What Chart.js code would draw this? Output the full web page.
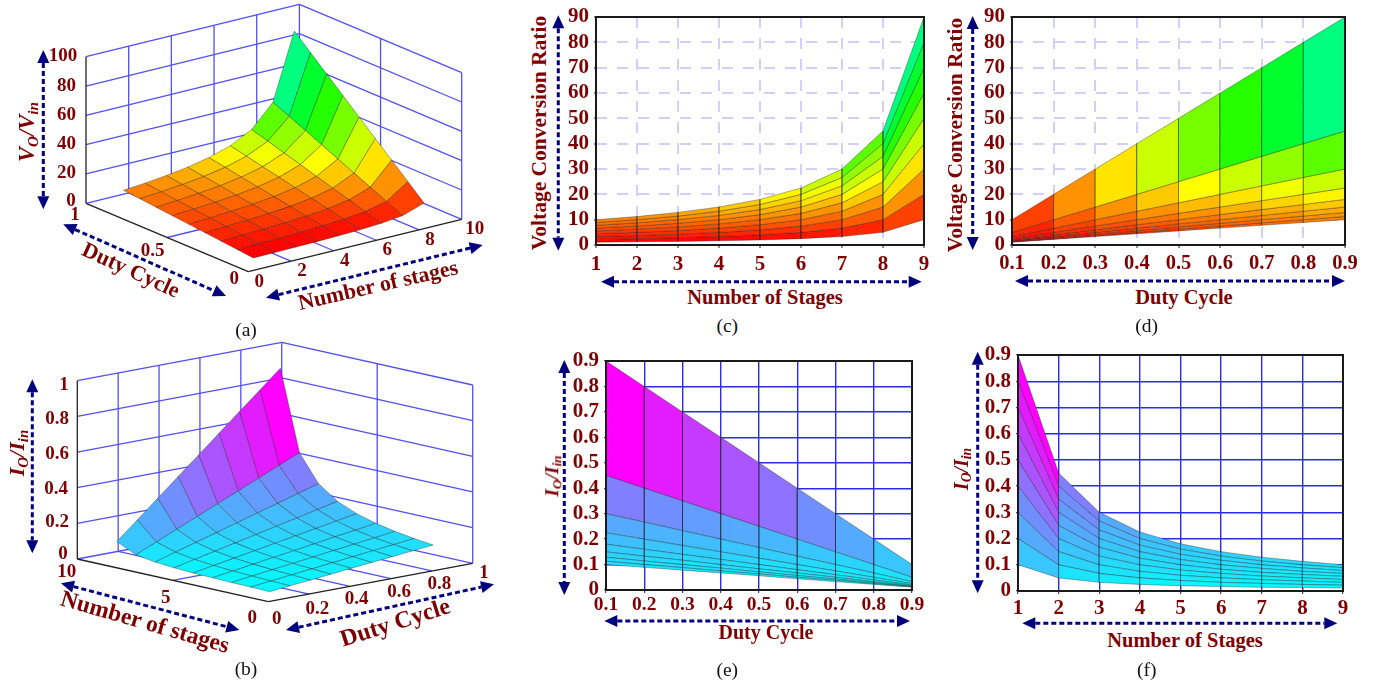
<!DOCTYPE html>
<html><head><meta charset="utf-8">
<script src="https://cdn.jsdelivr.net/npm/chart.js@4/dist/chart.umd.js"></script>
<style>
html,body{margin:0;padding:0;background:#fff;overflow:hidden}
#page{position:relative;width:1378px;height:683px;background:#fff;overflow:hidden}
canvas{position:absolute;display:block}
svg{position:absolute;left:0;top:0;pointer-events:none}
.t{position:absolute;white-space:nowrap;line-height:1;font-family:"Liberation Serif",serif;font-weight:bold;color:#7f0000}
.t sub{font-size:.68em;vertical-align:baseline;position:relative;top:.25em}
.c{font-weight:normal;color:#111}
</style></head><body><div id="page"></div>
<script>
// ---------- data ----------
const stages = [1,2,3,4,5,6,7,8,9];
const duties = [0.1,0.2,0.3,0.4,0.5,0.6,0.7,0.8,0.9];
// rows: number of stages 1..9, columns: duty cycle 0.1..0.9
const voltageRatio = [
 [1.11,2.22,3.33,4.44,5.56,6.67,7.78,8.89,10],
 [1.25,2.5,3.75,5,6.25,7.5,8.75,10,11.25],
 [1.43,2.86,4.29,5.71,7.14,8.57,10,11.43,12.86],
 [1.67,3.33,5,6.67,8.33,10,11.67,13.33,15],
 [2,4,6,8,10,12,14,16,18],
 [2.5,5,7.5,10,12.5,15,17.5,20,22.5],
 [3.33,6.67,10,13.33,16.67,20,23.33,26.67,30],
 [5,10,15,20,25,30,35,40,45],
 [10,20,30,40,50,60,70,80,90]
];
const currentRatio = [
 [.9,.8,.7,.6,.5,.4,.3,.2,.1],
 [.45,.4,.35,.3,.25,.2,.15,.1,.05],
 [.3,.267,.233,.2,.167,.133,.1,.067,.033],
 [.225,.2,.175,.15,.125,.1,.075,.05,.025],
 [.18,.16,.14,.12,.1,.08,.06,.04,.02],
 [.15,.133,.117,.1,.083,.067,.05,.033,.017],
 [.129,.114,.1,.086,.071,.057,.043,.029,.014],
 [.113,.1,.088,.075,.063,.05,.038,.025,.013],
 [.1,.089,.078,.067,.056,.044,.033,.022,.011]
];
const voltTicks = [0,10,20,30,40,50,60,70,80,90];
const voltLabels = ['0','10','20','30','40','50','60','70','80','90'];
const currTicks = [0,.1,.2,.3,.4,.5,.6,.7,.8,.9];
const currLabels = ['0','0.1','0.2','0.3','0.4','0.5','0.6','0.7','0.8','0.9'];
const stageLabels = ['1','2','3','4','5','6','7','8','9'];
const dutyLabels = ['0.1','0.2','0.3','0.4','0.5','0.6','0.7','0.8','0.9'];

// ---------- helpers ----------
const RED='#7f0000', NAVY='#00007f', FONT='"Liberation Serif", serif';
const page=document.getElementById('page');
Chart.defaults.animation=false;

function hsvGreen(v){ // red to spring green by value
  const h=Math.max(0,Math.min(152,3.84*v-4));
  return `hsl(${h},100%,50%)`;
}
function cool(v){ // cyan to magenta by value
  const r=Math.round(255*Math.min(1,v/.9));
  return `rgb(${r},${255-r},255)`;
}
function cellColor(kind,a,b,c,d){
  return kind==='V'?hsvGreen(Math.min(a,b,c,d)):cool(Math.max(a,b,c,d));
}
function cellsFrom(table,kind,toPoint,rows,cols){
  const out=[];
  for(const r of rows)for(const c of cols){
    const p=[[r,c],[r+1,c],[r+1,c+1],[r,c+1],[r,c]].map(([i,j])=>toPoint(i,j,table[i][j]));
    out.push({
      type:'scatter',showLine:true,data:p,fill:'shape',tension:0,
      backgroundColor:cellColor(kind,table[r][c],table[r+1][c],table[r+1][c+1],table[r][c+1]),
      borderColor:'rgba(30,30,30,.5)',borderWidth:.7,pointRadius:0
    });
  }
  return out;
}
function addText(html,cx,cy,size,rot,cls){
  const d=document.createElement('div');
  d.className='t'+(cls?' '+cls:'');
  d.innerHTML=html;
  d.style.left=cx+'px';d.style.top=cy+'px';d.style.fontSize=size+'px';
  d.style.transform=`translate(-50%,-50%) rotate(${rot||0}deg)`;
  page.appendChild(d);
}
function addArrow(svg,x1,y1,x2,y2){
  const L=Math.hypot(x2-x1,y2-y1),ux=(x2-x1)/L,uy=(y2-y1)/L,h=13,w=6;
  const ln=document.createElementNS('http://www.w3.org/2000/svg','line');
  ln.setAttribute('x1',x1+ux*h);ln.setAttribute('y1',y1+uy*h);
  ln.setAttribute('x2',x2-ux*h);ln.setAttribute('y2',y2-uy*h);
  ln.setAttribute('stroke',NAVY);ln.setAttribute('stroke-width','3');
  ln.setAttribute('stroke-dasharray','5 3');
  svg.appendChild(ln);
  for(const [x,y,s] of [[x1,y1,1],[x2,y2,-1]]){
    const p=document.createElementNS('http://www.w3.org/2000/svg','polygon');
    const bx=x+s*ux*h,by=y+s*uy*h;
    p.setAttribute('points',`${x},${y} ${bx-uy*w},${by+ux*w} ${bx+uy*w},${by-ux*w}`);
    p.setAttribute('fill',NAVY);
    svg.appendChild(p);
  }
}
function mkCanvas(l,t,w,h){
  const c=document.createElement('canvas');
  c.width=w;c.height=h;c.style.left=l+'px';c.style.top=t+'px';c.style.width=w+'px';c.style.height=h+'px';
  page.appendChild(c);return c;
}
function withOrder(ds){ds.forEach((d,i)=>d.order=-i);return ds;}

// ---------- 2-D panels ----------
function panel2D(o){
  const L=44,T=22,R=26,B=34;
  const c=mkCanvas(o.left-L,o.top-T,o.right-o.left+L+R,o.bottom-o.top+T+B);
  const xMin=o.xTicks[0],xMax=o.xTicks[o.xTicks.length-1];
  const yMin=o.yTicks[0],yMax=o.yTicks[o.yTicks.length-1];
  const frame={type:'scatter',showLine:true,fill:false,tension:0,pointRadius:0,clip:false,
    data:[{x:xMin,y:yMin},{x:xMax,y:yMin},{x:xMax,y:yMax},{x:xMin,y:yMax},{x:xMin,y:yMin}],
    borderColor:'#1a1a1a',borderWidth:2};
  new Chart(c,{type:'scatter',
    data:{datasets:withOrder([...o.cells,frame])},
    options:{responsive:false,devicePixelRatio:1,animation:false,
      layout:{padding:{left:0,top:T,right:R,bottom:0}},
      plugins:{legend:{display:false},tooltip:{enabled:false}},
      scales:{
        x:{type:'linear',min:xMin,max:xMax,
          afterBuildTicks:s=>{s.ticks=o.xTicks.map(v=>({value:v}));},
          afterFit:s=>{s.height=B;},
          grid:{color:o.grid,lineWidth:o.gw,drawTicks:true,tickColor:'#222',tickLength:3,tickWidth:1},
          border:{display:false,dash:o.dash},
          ticks:{autoSkip:false,maxRotation:0,minRotation:0,padding:o.xPad,color:RED,
            font:{family:FONT,weight:'bold',size:o.xSize},callback:(v,i)=>o.xLabels[i]}},
        y:{type:'linear',min:yMin,max:yMax,
          afterBuildTicks:s=>{s.ticks=o.yTicks.map(v=>({value:v}));},
          afterFit:s=>{s.width=L;},
          grid:{color:o.grid,lineWidth:o.gw,drawTicks:true,tickColor:'#222',tickLength:2,tickWidth:1},
          border:{display:false,dash:o.dash},
          ticks:{autoSkip:false,padding:5,color:RED,
            font:{family:FONT,weight:'bold',size:21},callback:(v,i)=>o.yLabels[i]}}
      }}});
}
const rowIdx=[0,1,2,3,4,5,6,7];
const dashGrid='#d0d0fb', solidGrid='#2a2af0';
// (c) ratio against stages: x = stages[r]
panel2D({left:596,right:924,top:17,bottom:245,xTicks:stages,yTicks:voltTicks,xLabels:stageLabels,yLabels:voltLabels,
  grid:dashGrid,gw:2,dash:[11,10],xPad:4,xSize:21,
  cells:cellsFrom(voltageRatio,'V',(i,j,v)=>({x:stages[i],y:v}),rowIdx,rowIdx)});
// (d) ratio against duty: x = duties[c]
panel2D({left:1012,right:1345,top:17,bottom:245,xTicks:duties,yTicks:voltTicks,xLabels:dutyLabels,yLabels:voltLabels,
  grid:dashGrid,gw:2,dash:[11,10],xPad:3,xSize:20.5,
  cells:cellsFrom(voltageRatio,'V',(i,j,v)=>({x:duties[j],y:v}),rowIdx,rowIdx)});
// (e)
panel2D({left:606,right:912,top:361,bottom:590,xTicks:duties,yTicks:currTicks,xLabels:dutyLabels,yLabels:currLabels,
  grid:solidGrid,gw:1.4,xPad:0,xSize:19.5,
  cells:cellsFrom(currentRatio,'I',(i,j,v)=>({x:duties[j],y:v}),rowIdx,rowIdx)});
// (f)
panel2D({left:1018,right:1343,top:355,bottom:591,xTicks:stages,yTicks:currTicks,xLabels:stageLabels,yLabels:currLabels,
  grid:solidGrid,gw:1.4,xPad:2,xSize:21,
  cells:cellsFrom(currentRatio,'I',(i,j,v)=>({x:stages[i],y:v}),rowIdx,rowIdx)});

// ---------- 3-D panels: data are projected through an axonometric map ----------
function lineDs(a,b,color,w){
  return {type:'scatter',showLine:true,fill:false,tension:0,pointRadius:0,data:[a,b],borderColor:color,borderWidth:w};
}
function panel3D(o){
  const c=mkCanvas(o.cl,o.ct,o.cw,o.ch);
  new Chart(c,{type:'scatter',data:{datasets:withOrder(o.ds)},
    options:{responsive:false,devicePixelRatio:1,animation:false,layout:{padding:0},
      plugins:{legend:{display:false},tooltip:{enabled:false}},
      scales:{x:{type:'linear',display:false,min:o.cl,max:o.cl+o.cw},
              y:{type:'linear',display:false,reverse:true,min:o.ct,max:o.ct+o.ch}}}});
}
const WALL='#5050f5', EDGE='#222';
// (a)  N along the right-hand floor edge, D along the left-hand one
(function(){
  const pa=(n,d,z)=>({x:248.3+n/10*213.4-d*162.3, y:271.7-n/10*52.4-d*68.4-z/100*146.6});
  const zs=[0,20,40,60,80,100], ns=[2,4,6,8];
  const ds=[];
  // walls and floor
  for(const z of zs){ds.push(lineDs(pa(0,1,z),pa(10,1,z),WALL,1.3));ds.push(lineDs(pa(10,1,z),pa(10,0,z),WALL,1.3));}
  for(const n of ns){ds.push(lineDs(pa(n,1,0),pa(n,1,100),WALL,1.3));ds.push(lineDs(pa(n,0,0),pa(n,1,0),WALL,1.3));}
  ds.push(lineDs(pa(10,1,0),pa(10,1,100),WALL,1.3));
  ds.push(lineDs(pa(10,.5,0),pa(10,.5,100),WALL,1.3));
  ds.push(lineDs(pa(10,0,0),pa(10,0,100),WALL,1.3));
  ds.push(lineDs(pa(0,.5,0),pa(10,.5,0),WALL,1.3));
  // surface, far cells first
  ds.push(...cellsFrom(voltageRatio,'V',(i,j,v)=>pa(stages[i],duties[j],v),[7,6,5,4,3,2,1,0],[7,6,5,4,3,2,1,0]));
  // front axes
  ds.push(lineDs(pa(0,1,0),pa(0,1,100),EDGE,1.3));
  ds.push(lineDs(pa(0,1,0),pa(0,0,0),EDGE,1.3));
  ds.push(lineDs(pa(0,0,0),pa(10,0,0),EDGE,1.3));
  panel3D({cl:60,ct:0,cw:430,ch:290,ds});
  for(const [z,y] of [[0,199.3],[20,171],[40,141.7],[60,112.7],[80,84.3],[100,54]])
    addText(String(z),z===100?63:(z===0?71:66.5),y,19);
  for(const n of [0,2,4,6,8,10]){const p=pa(n,0,0);addText(String(n),p.x+(n===10?13:11),p.y+8,19);}
  for(const [d,l,dx,dy] of [[1,'1',-11,10],[.5,'0.5',-14.5,11],[0,'0',-14,5]]){const p=pa(0,d,0);addText(l,p.x+dx,p.y+dy,19);}
})();
// (b)
(function(){
  const pb=(n,d,z)=>({x:268.3+d*204.4-n/10*191, y:601.7-d*38.4-n/10*42.7-z*178.3});
  const zs=[0,.2,.4,.6,.8,1], dv=[.2,.4,.6,.8];
  const ds=[];
  for(const z of zs){ds.push(lineDs(pb(10,0,z),pb(10,1,z),WALL,1.3));ds.push(lineDs(pb(10,1,z),pb(0,1,z),WALL,1.3));}
  for(const d of dv){ds.push(lineDs(pb(10,d,0),pb(10,d,1),WALL,1.3));ds.push(lineDs(pb(0,d,0),pb(10,d,0),WALL,1.3));}
  ds.push(lineDs(pb(10,1,0),pb(10,1,1),WALL,1.3));
  ds.push(lineDs(pb(5,1,0),pb(5,1,1),WALL,1.3));
  ds.push(lineDs(pb(0,1,0),pb(0,1,1),WALL,1.3));
  ds.push(lineDs(pb(5,0,0),pb(5,1,0),WALL,1.3));
  // the surface is drawn with its peak in the far corner, as in the figure
  ds.push(...cellsFrom(currentRatio,'I',(i,j,v)=>pb(10-stages[i],1-duties[j],v),[0,1,2,3,4,5,6,7],[0,1,2,3,4,5,6,7]));
  ds.push(lineDs(pb(10,0,0),pb(10,0,1),EDGE,1.3));
  ds.push(lineDs(pb(10,0,0),pb(0,0,0),EDGE,1.3));
  ds.push(lineDs(pb(0,0,0),pb(0,1,0),EDGE,1.3));
  panel3D({cl:60,ct:335,cw:430,ch:290,ds});
  for(const [l,y,x] of [['1',382.7,64],['0.8',416.7,57],['0.6',451.7,57],['0.4',486.7,56],['0.2',520,57],['0',552.3,63]]) addText(l,x,y,19);
  for(const [l,x,y] of [['10',66.7,570],['5',165.7,596],['0',252.3,616],['0',276.7,616.7],['0.2',317.3,606.7],['0.4',356.7,596.7],['0.6',399,590],['0.8',439.3,581.7],['1',484,570.7]]) addText(l,x,y,19);
})();

// ---------- titles ----------
addText('<i>V<sub>O</sub>/V<sub>in</sub></i>',26.7,131.7,22.5,-90);
addText('Duty Cycle',130.7,270,22,24.6);
addText('Number of stages',378,285,22,-12.8);
addText('<i>I<sub>O</sub>/I<sub>in</sub></i>',17.3,453.3,22,-90);
addText('Number of stages',145,621.7,23.5,16);
addText('Duty Cycle',395,621.7,24,-17.6);
addText('Voltage Conversion Ratio',540,132.5,21.5,-90);
addText('Number of Stages',765,296.7,20.5);
addText('Voltage Conversion Ratio',955.5,135,21.5,-90);
addText('Duty Cycle',1184,296.7,20.5);
addText('<i>I<sub>O</sub>/I<sub>in</sub></i>',551.5,476,19.5,-90);
addText('Duty Cycle',766,632,20);
addText('<i>I<sub>O</sub>/I<sub>in</sub></i>',961,469,20,-90);
addText('Number of Stages',1185,640,20.5);
for(const [l,x,y] of [['(a)',246,330],['(b)',246,669],['(c)',727.3,326],['(d)',1146.7,326],['(e)',727.3,670],['(f)',1146.7,670]])
  addText(l,x,y,19.5,0,'c');

// ---------- dashed double-headed arrows ----------
const svg=document.createElementNS('http://www.w3.org/2000/svg','svg');
svg.setAttribute('width','1378');svg.setAttribute('height','683');
page.appendChild(svg);
[[43.3,50,43.3,209.3],[63.3,224.3,226,296],[266,297.7,482.7,245],
 [32.3,379.3,32.3,553.3],[61,583.3,239.3,630],[286,630,494,584.3],
 [558.3,15.3,558.3,250.7],[601,281.7,921.7,281.7],
 [972.7,16,972.7,250],[1015,281,1345,281],
 [564.3,360,564.3,595],[604.3,621,910,621],
 [977.7,351.7,977.7,593.3],[1022.3,623.3,1337.3,623.3]].forEach(a=>addArrow(svg,...a));
</script></body></html>
